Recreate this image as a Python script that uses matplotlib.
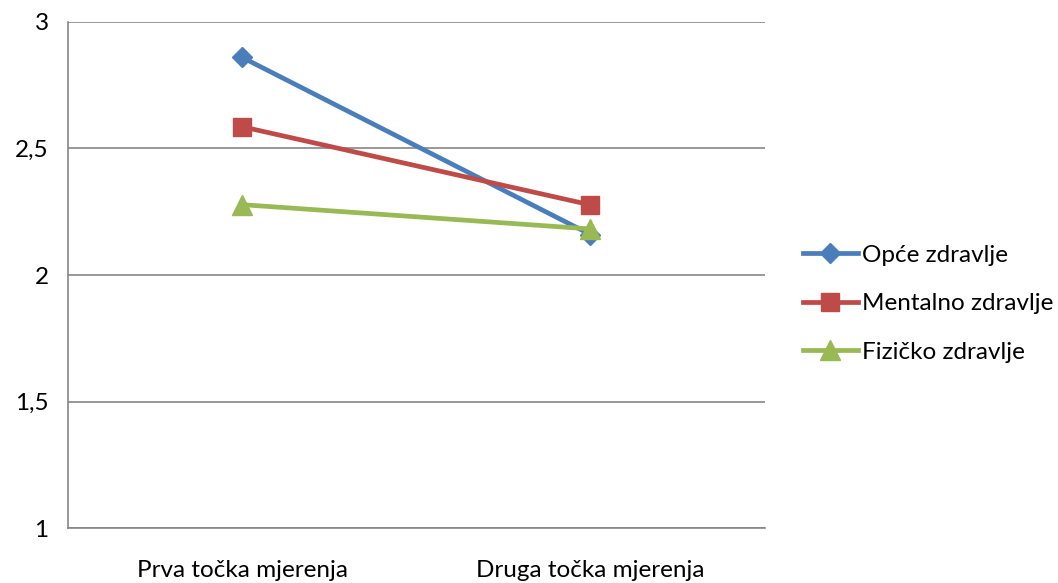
import matplotlib.pyplot as plt
import numpy as np

# podaci ocitani s grafa
kategorije = ["Prva točka mjerenja", "Druga točka mjerenja"]
opce = [2.86, 2.16]
mentalno = [2.586, 2.277]
fizicko = [2.278, 2.182]
y_oznake = ["1", "1,5", "2", "2,5", "3"]
y_vrijednosti = [1, 1.5, 2, 2.5, 3]

plt.rcParams['font.family'] = ['Lato', 'DejaVu Sans']

fig = plt.figure(figsize=(10.58, 5.83), dpi=100)
ax = fig.add_axes([0.0643, 0.0943, 0.7227 - 0.0643, 0.9623 - 0.0943])

x = np.arange(len(kategorije))
siva = '#868686'
fs = 17.5

ax.plot(x, opce, color='#4A7EBB', lw=3.4, marker='D', ms=10.5, label='Opće zdravlje', zorder=3)
ax.plot(x, mentalno, color='#BE4B48', lw=3.4, marker='s', ms=13.5, label='Mentalno zdravlje', zorder=3)
ax.plot(x, fizicko, color='#98B954', lw=3.4, marker='^', ms=14, label='Fizičko zdravlje', zorder=3)

ax.set_xlim(-0.5, 1.5)
ax.set_ylim(1, 3)
ax.set_xticks(x)
ax.set_xticklabels(kategorije, fontsize=fs)
ax.set_yticks(y_vrijednosti)
ax.set_yticklabels(y_oznake, fontsize=fs)
ax.tick_params(axis='x', length=0, pad=23)
ax.tick_params(axis='y', length=0, pad=14)

ax.yaxis.grid(True, color=siva, lw=1.2)
ax.set_axisbelow(True)
for s in ['top', 'right']:
    ax.spines[s].set_visible(False)
for s in ['left', 'bottom']:
    ax.spines[s].set_color(siva)
    ax.spines[s].set_linewidth(1.2)

ax.legend(loc='center left', bbox_to_anchor=(1.041, 0.443), frameon=False, fontsize=fs,
          handlelength=2.26, handletextpad=0.16, labelspacing=1.13, borderaxespad=0)

fig.savefig('out.png', dpi=100)
